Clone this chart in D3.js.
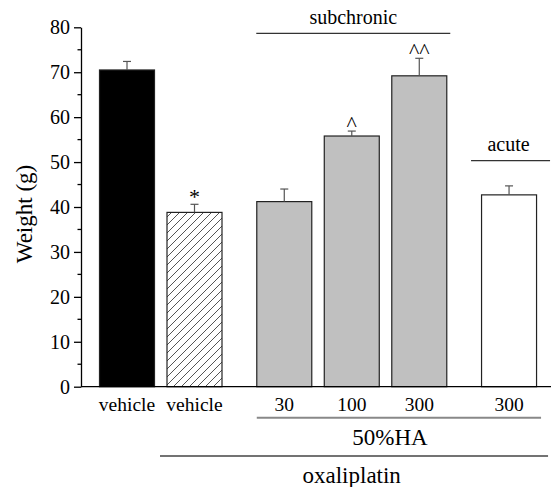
<!DOCTYPE html>
<html>
<head>
<meta charset="utf-8">
<script src="https://cdn.jsdelivr.net/npm/d3@7"></script>
<style>
  body { margin: 0; background: #fff; }
  text { font-family: "Liberation Serif", "Times New Roman", serif; }
</style>
</head>
<body>
<div id="chart"></div>
<script>
// data
let labels = ["vehicle", "vehicle", "30", "100", "300", "300"];
let means = [70.5, 38.8, 41.2, 55.8, 69.2, 42.7];
let errors = [1.9, 1.8, 2.8, 1.1, 3.9, 2.0];
let groups = [0, 0, 1, 1, 1, 2];
let marks = ["", "*", "", "^", "^^", ""];
let fills = ["#000000", "hatch", "#c0c0c0", "#c0c0c0", "#c0c0c0", "#ffffff"];
let yTicks = [0, 10, 20, 30, 40, 50, 60, 70, 80];

let width = 551, height = 487;

let svg = d3.select("#chart").append("svg")
    .attr("width", width)
    .attr("height", height);

let defs = svg.append("defs");
let pat = defs.append("pattern")
    .attr("id", "hatch")
    .attr("patternUnits", "userSpaceOnUse")
    .attr("width", 8)
    .attr("height", 8);
pat.append("rect").attr("width", 8).attr("height", 8).attr("fill", "#fff");
pat.append("path")
    .attr("d", "M-2,2 l4,-4 M0,8 l8,-8 M6,10 l4,-4")
    .attr("stroke", "#555")
    .attr("stroke-width", 1);

// scales
let slot = function(i) { return i + groups[i] * 0.33 };
let x = d3.scaleLinear().domain([0, 1]).range([127, 194.5]);
let y = d3.scaleLinear().domain([0, 80]).range([386.7, 27.3]);
let barW = 55;

// y axis
let yAxis = d3.axisLeft(y).tickValues(yTicks).tickSize(7).tickPadding(4).tickSizeOuter(0);
let yAx = svg.append("g")
    .attr("transform", "translate(81,0)")
    .call(yAxis);
yAx.select(".domain").attr("stroke", "#000").attr("stroke-width", 1.3);
yAx.selectAll(".tick line").attr("stroke", "#000").attr("stroke-width", 1.3);
yAx.selectAll("text")
    .attr("font-size", 20)
    .attr("fill", "#000")
    .style("font-family", "Liberation Serif, serif");

let minor = d3.range(5, 80, 10);
svg.append("g").selectAll("line")
    .data(minor)
    .enter()
    .append("line")
    .attr("x1", 77.5)
    .attr("x2", 81)
    .attr("y1", function(d) { return y(d) })
    .attr("y2", function(d) { return y(d) })
    .attr("stroke", "#000")
    .attr("stroke-width", 1.3);

svg.append("text")
    .attr("transform", "translate(32,214)rotate(-90)")
    .attr("text-anchor", "middle")
    .attr("font-size", 23)
    .text("Weight (g)");

// bars
let bars = svg.append("g").selectAll("rect")
    .data(means)
    .enter()
    .append("rect")
    .attr("x", function(d, i) { return x(slot(i)) - barW / 2 })
    .attr("y", function(d) { return y(d) })
    .attr("width", barW)
    .attr("height", function(d) { return y(0) - y(d) })
    .attr("fill", function(d, i) { return fills[i] === "hatch" ? "url(#hatch)" : fills[i] })
    .attr("stroke", "#222")
    .attr("stroke-width", 1.2);

// error bars
let err = svg.append("g").selectAll("g")
    .data(means)
    .enter()
    .append("g");
err.append("line")
    .attr("x1", function(d, i) { return x(slot(i)) })
    .attr("x2", function(d, i) { return x(slot(i)) })
    .attr("y1", function(d) { return y(d) })
    .attr("y2", function(d, i) { return y(d + errors[i]) })
    .attr("stroke", "#555")
    .attr("stroke-width", 1.2);
err.append("line")
    .attr("x1", function(d, i) { return x(slot(i)) - 4 })
    .attr("x2", function(d, i) { return x(slot(i)) + 4 })
    .attr("y1", function(d, i) { return y(d + errors[i]) })
    .attr("y2", function(d, i) { return y(d + errors[i]) })
    .attr("stroke", "#555")
    .attr("stroke-width", 1.2);
err.append("text")
    .attr("x", function(d, i) { return x(slot(i)) })
    .attr("y", function(d, i) { return y(d + errors[i]) + (marks[i] === "*" ? -0.5 : 0) })
    .attr("text-anchor", "middle")
    .attr("font-size", 22)
    .text(function(d, i) { return marks[i] });

// x axis line
svg.append("line")
    .attr("x1", 81).attr("x2", 551)
    .attr("y1", y(0)).attr("y2", y(0))
    .attr("stroke", "#000")
    .attr("stroke-width", 1.3);

// category labels
svg.append("g").selectAll("text")
    .data(labels)
    .enter()
    .append("text")
    .attr("x", function(d, i) { return x(slot(i)) })
    .attr("y", 410.5)
    .attr("text-anchor", "middle")
    .attr("font-size", 19.5)
    .text(function(d) { return d });

// group brackets
function bracket(x1, x2, yy, color, sw) {
    svg.append("line")
        .attr("x1", x1).attr("x2", x2)
        .attr("y1", yy).attr("y2", yy)
        .attr("stroke", color)
        .attr("stroke-width", sw);
}
function label(txt, cx, yy, size) {
    svg.append("text")
        .attr("x", cx).attr("y", yy)
        .attr("text-anchor", "middle")
        .attr("font-size", size)
        .text(txt);
}

bracket(x(slot(2)) - 28, x(slot(4)) + 31, 33.3, "#333", 1.2);
label("subchronic", (x(slot(2)) + x(slot(4))) / 2 + 1.5, 24, 20);
bracket(x(slot(5)) - 38, x(slot(5)) + 41, 160.7, "#333", 1.2);
label("acute", x(slot(5)) - 0.5, 151, 20);

bracket(x(slot(2)) - 27.5, x(slot(5)) + 32, 417.7, "#888", 2);
label("50%HA", 390, 445, 23);
bracket(x(slot(1)) - 34.5, x(slot(5)) + 39, 456, "#444", 1.3);
label("oxaliplatin", 351.7, 483, 23);
</script>
</body>
</html>
